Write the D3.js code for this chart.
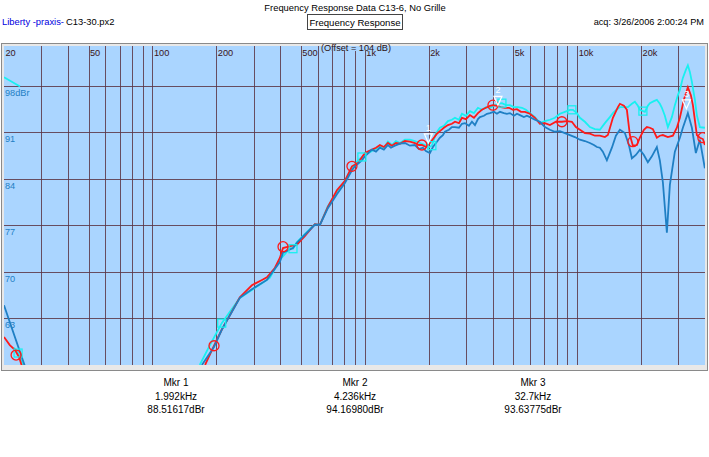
<!DOCTYPE html>
<html><head><meta charset="utf-8">
<script src="https://cdn.jsdelivr.net/npm/d3@7"></script>
<style>
body{margin:0;background:#fff;}
svg{display:block;font-family:"Liberation Sans",Arial,sans-serif;}
</style></head>
<body><svg id="c" width="709" height="457"></svg>
<script>
// ---------- data ----------
const title = "Frequency Response Data C13-6, No Grille";
const subtitle = "Frequency Response";
const acqText = "acq: 3/26/2006 2:00:24 PM";
const xTickValues = [20, 50, 100, 200, 500, 1000, 2000, 5000, 10000, 20000];
const xTickLabels = ["20", "50", "100", "200", "500", "1k", "2k", "5k", "10k", "20k"];
const yTickValues = [98, 91, 84, 77, 70, 63];
const yTickLabels = ["98dBr", "91", "84", "77", "70", "63"];
const markerNames = ["Mkr 1", "Mkr 2", "Mkr 3"];
const markerFreqs = [1992, 4236, 32700];
const markerDb = [88.51617, 94.16980, 93.63775];
const markerFreqText = ["1.992kHz", "4.236kHz", "32.7kHz"];
const markerDbText = ["88.51617dBr", "94.16980dBr", "93.63775dBr"];

// [Hz, dBr]; null = break in curve
const blueCurve = [[20,65.0],[25.1,55.8],null,
[171,56.0],[195,58.7],[212,61.3],[258,66.1],[294,67.4],[346,68.8],[398,71.5],[412,72.9],[459,73.6],[479,74.4],[522,75.6],[582,77.1],[615,77.1],[670,79.6],[739,81.7],[806,83.4],[870,85.3],[899,85.9],[969,86.8],[1001,87.4],[1081,88.4],[1129,88.1],[1178,88.7],[1230,88.4],[1285,89.1],[1328,88.7],[1387,89.0],[1464,89.3],[1545,89.4],[1631,89.0],[1722,89.1],[1798,88.5],[1878,88.7],[1940,88.2],[2026,87.9],[2093,88.8],[2186,89.6],[2258,90.2],[2333,90.6],[2384,91.1],[2490,91.4],[2572,91.8],[2658,91.8],[2776,91.7],[2868,92.3],[2962,92.4],[3093,92.0],[3196,92.6],[3302,92.1],[3411,93.0],[3485,93.3],[3639,93.5],[3760,93.8],[3884,93.9],[4056,94.1],[4190,93.8],[4329,94.1],[4521,93.9],[4670,93.8],[4825,93.9],[5039,93.5],[5206,93.8],[5377,93.6],[5615,93.3],[5801,93.5],[5993,93.3],[6327,92.9],[6678,92.6],[7050,91.8],[7443,91.4],[7857,91.1],[8295,91.2],[8756,90.9],[9245,90.6],[9758,90.3],[10302,89.9],[10875,89.7],[11482,89.4],[11991,89.1],[12388,88.8],[12794,88.7],[13213,88.1],[13804,86.8],[14576,88.7],[15222,90.5],[15898,91.4],[16778,90.9],[17525,89.1],[18104,87.1],[18904,87.6],[19744,88.4],[20618,87.6],[21528,86.5],[22482,87.4],[23732,88.8],[24518,86.8],[25332,83.5],[26456,75.9],[27328,83.1],[28850,88.1],[30460,90.2],[31466,91.7],[33220,93.9],[34700,91.7],[36220,87.9],[37820,89.9],[39940,85.6]];

const redCurve = [[20,60.2],[21.3,59.0],[22.5,58.3],[23.6,57.1],[24.3,55.8],null,
[177,56.0],[195,58.9],[212,61.3],[258,66.2],[294,68.0],[328,68.8],[346,69.2],[377,70.6],[398,72.1],[412,73.6],[445,73.9],[479,74.1],[522,75.4],[582,77.2],[615,77.1],[670,79.8],[739,82.3],[806,83.7],[870,85.9],[929,86.4],[1001,87.9],[1081,88.4],[1129,88.7],[1178,89.1],[1230,88.8],[1285,89.4],[1342,89.0],[1402,89.4],[1464,89.3],[1545,89.7],[1631,89.6],[1722,89.4],[1798,89.1],[1858,89.1],[1940,88.8],[2026,89.4],[2116,90.2],[2186,90.8],[2258,91.2],[2358,91.7],[2463,92.1],[2572,92.3],[2658,92.6],[2776,92.4],[2868,93.2],[2994,93.0],[3127,93.6],[3266,93.2],[3411,93.9],[3561,94.4],[3720,94.7],[3884,95.0],[4013,95.1],[4190,95.0],[4376,94.8],[4570,94.7],[4773,94.7],[4985,94.4],[5206,94.5],[5436,94.1],[5676,94.1],[5993,93.8],[6327,93.2],[6678,92.3],[7050,92.4],[7443,92.1],[7943,92.6],[8477,92.6],[8948,92.7],[9448,92.6],[9864,91.8],[10302,91.4],[10875,90.9],[11482,90.8],[12121,90.5],[12794,90.5],[13506,90.3],[13955,90.6],[14734,93.2],[15558,94.8],[15898,95.3],[16602,95.0],[17146,94.4],[17716,90.6],[18301,89.0],[19110,89.1],[19744,90.2],[20618,91.4],[21298,91.8],[22000,91.7],[22726,91.5],[23732,90.2],[24518,90.5],[25332,90.6],[26742,90.3],[28232,90.5],[29480,91.7],[30460,93.2],[31809,95.9],[33220,97.8],[34318,96.6],[35080,95.1],[36620,90.6],[37820,90.2],[39080,90.0],[39940,89.1]];

const cyanCurve = [[20,99.3],[23.8,97.9],null,[22.3,58.6],[23.3,57.8],[24.8,55.8],null,
[167,56.0],[186.5,59.0],[212,62.3],[258,66.1],[294,67.3],[328,68.3],[357,69.1],[398,71.8],[445,73.6],[459,73.5],[479,74.5],[522,75.7],[582,77.2],[615,77.1],[670,79.9],[739,82.0],[806,83.7],[870,85.6],[929,86.8],[969,87.3],[1001,87.6],[1081,88.2],[1129,88.5],[1178,89.0],[1230,88.7],[1285,89.6],[1342,89.1],[1402,89.7],[1464,89.4],[1545,89.9],[1631,89.9],[1722,89.7],[1818,89.4],[1919,89.1],[1983,88.7],[2070,89.0],[2162,90.8],[2258,91.7],[2358,92.0],[2463,92.7],[2572,92.9],[2658,93.2],[2776,92.9],[2868,93.8],[2994,93.5],[3127,94.2],[3266,93.9],[3411,94.7],[3561,94.4],[3720,94.8],[3884,94.7],[4056,95.0],[4236,95.3],[4424,95.4],[4620,95.1],[4825,95.1],[5039,94.8],[5262,94.8],[5495,94.7],[5738,94.4],[5993,93.9],[6327,93.3],[6678,92.4],[7050,92.7],[7443,92.9],[7857,93.2],[8295,93.8],[8756,94.1],[9245,94.4],[9551,94.4],[9971,93.9],[10302,93.2],[10875,92.6],[11482,91.8],[12121,91.5],[12794,91.4],[13506,92.4],[14258,93.3],[14734,93.9],[15387,94.5],[15898,94.8],[16602,94.8],[17336,94.8],[18104,95.3],[18700,95.6],[19318,95.0],[19744,94.4],[20842,94.1],[21528,95.0],[22000,95.4],[22974,95.7],[23732,95.9],[24518,95.3],[25064,94.7],[25886,93.5],[26742,91.8],[27928,93.3],[28850,95.1],[29808,96.6],[30460,97.4],[31466,99.2],[32505,100.4],[33220,101.1],[33948,100.1],[34700,98.6],[35850,95.9],[36620,93.6],[37820,91.8],[39940,91.7]];

const redSymbols = [[22.8,57.5],[195,58.9],[412,73.8],[870,85.9],[1858,89.1],[4013,95.1],[8477,92.6],[18301,89.6],[39080,90.2]];
const cyanSymbols = [[23.3,57.8],[212,62.3],[459,73.5],[969,87.3],[2070,89.0],[4424,95.4],[9448,94.4],[20400,94.2]];

// ---------- layout ----------
const svg = d3.select("#c");
const P = {l:4, r:705, t:46, b:365};
const x = d3.scaleLog().domain([20, 40000]).range([P.l, P.r]);
const y = d3.scaleLinear().domain([56, 104]).range([P.b, P.t]);
const gridCol = "#5c3646";
const bg = "#aad5ff";

// header
svg.append("text").attr("x",355).attr("y",11).attr("text-anchor","middle")
  .attr("font-size",9.4).attr("fill","#000").text(title);
svg.append("text").attr("x",2).attr("y",25).attr("font-size",9.4).attr("fill","#0000e0").text("Liberty -praxis-");
svg.append("text").attr("x",66).attr("y",25).attr("font-size",9.4).attr("fill","#000").text("C13-30.px2");
svg.append("rect").attr("x",307.5).attr("y",14.5).attr("width",95).attr("height",15)
  .attr("fill","#fff").attr("stroke","#444");
svg.append("text").attr("x",355).attr("y",25.5).attr("text-anchor","middle").attr("font-size",9.6).attr("fill","#000").text(subtitle);
svg.append("text").attr("x",704).attr("y",25).attr("text-anchor","end").attr("font-size",9.2).attr("fill","#000").text(acqText);

// frame + plot background
svg.append("rect").attr("x",1.5).attr("y",43.5).attr("width",706).attr("height",327)
  .attr("fill","#e8e8e8").attr("stroke","#8a8a8a");
svg.append("rect").attr("x",P.l).attr("y",P.t).attr("width",P.r-P.l).attr("height",P.b-P.t).attr("fill",bg);

const g = svg.append("g");
svg.append("defs").append("clipPath").attr("id","clip").append("rect")
  .attr("x",P.l).attr("y",P.t).attr("width",P.r-P.l).attr("height",P.b-P.t);

// vertical grid (1-9 per decade)
const vTicks = x.ticks().filter(v => v > 20 && v < 40000);
g.selectAll("line.v").data(vTicks).enter().append("line")
  .attr("x1",d=>Math.round(x(d))+0.5).attr("x2",d=>Math.round(x(d))+0.5)
  .attr("y1",P.t).attr("y2",P.b).attr("stroke",gridCol).attr("stroke-width",1).attr("opacity",0.85);
// horizontal grid
g.selectAll("line.h").data(yTickValues).enter().append("line")
  .attr("x1",P.l).attr("x2",P.r)
  .attr("y1",d=>Math.round(y(d))+0.5).attr("y2",d=>Math.round(y(d))+0.5)
  .attr("stroke",gridCol).attr("stroke-width",1).attr("opacity",0.85);

// x tick labels
g.selectAll("text.xl").data(xTickValues).enter().append("text")
  .attr("x",d=>x(d)+1.5).attr("y",55.5).attr("font-size",9.2).attr("fill","#3a1420")
  .text((d,i)=>xTickLabels[i]);
// offset label with background
g.append("rect").attr("x",319).attr("y",P.t).attr("width",73).attr("height",5).attr("fill",bg);
g.append("text").attr("x",321).attr("y",51).attr("font-size",9.2).attr("fill","#2a1010").text("(Offset = 104 dB)");

// y tick labels
g.selectAll("text.yl").data(yTickValues).enter().append("text")
  .attr("x",5).attr("y",d=>y(d)+10).attr("font-size",9.2).attr("fill","#1f7fc4")
  .text((d,i)=>yTickLabels[i]);

// curves
const line = d3.line().defined(d=>d!==null).x(d=>x(d[0])).y(d=>y(d[1]));
const curves = g.append("g").attr("clip-path","url(#clip)");
curves.append("path").attr("d",line(cyanCurve)).attr("fill","none").attr("stroke","#19f0f0").attr("stroke-width",1.8);
curves.append("path").attr("d",line(redCurve)).attr("fill","none").attr("stroke","#ff1a1a").attr("stroke-width",1.8);
curves.append("path").attr("d",line(blueCurve)).attr("fill","none").attr("stroke","#1f7fc4").attr("stroke-width",1.8);

curves.selectAll("rect.cs").data(cyanSymbols).enter().append("rect")
  .attr("x",d=>x(d[0])-4).attr("y",d=>y(d[1])-4).attr("width",8).attr("height",8)
  .attr("fill","none").attr("stroke","#19f0f0").attr("stroke-width",1.3);
curves.selectAll("circle.rs").data(redSymbols).enter().append("circle")
  .attr("cx",d=>x(d[0])).attr("cy",d=>y(d[1])).attr("r",5)
  .attr("fill","none").attr("stroke","#ff1a1a").attr("stroke-width",1.3);

// marker triangles
markerFreqs.forEach((f,i)=>{
  const mx = x(f), my = y(markerDb[i]) - 6;
  curves.append("path").attr("d",`M${mx-4},${my-9}L${mx+4},${my-9}L${mx},${my}Z`)
    .attr("fill","none").attr("stroke","#ffffff").attr("stroke-width",1.2);
  curves.append("text").attr("x",mx).attr("y",my-12).attr("text-anchor","middle")
    .attr("font-size",9).attr("fill","#ffffff").text(String(i+1));
});

// marker readouts
const mxPos = [176, 355, 533];
markerNames.forEach((n,i)=>{
  const t = svg.append("text").attr("text-anchor","middle").attr("font-size",10).attr("fill","#000");
  t.append("tspan").attr("x",mxPos[i]).attr("y",386).text(n);
  t.append("tspan").attr("x",mxPos[i]).attr("y",399.5).text(markerFreqText[i]);
  t.append("tspan").attr("x",mxPos[i]).attr("y",413).text(markerDbText[i]);
});
</script></body></html>
